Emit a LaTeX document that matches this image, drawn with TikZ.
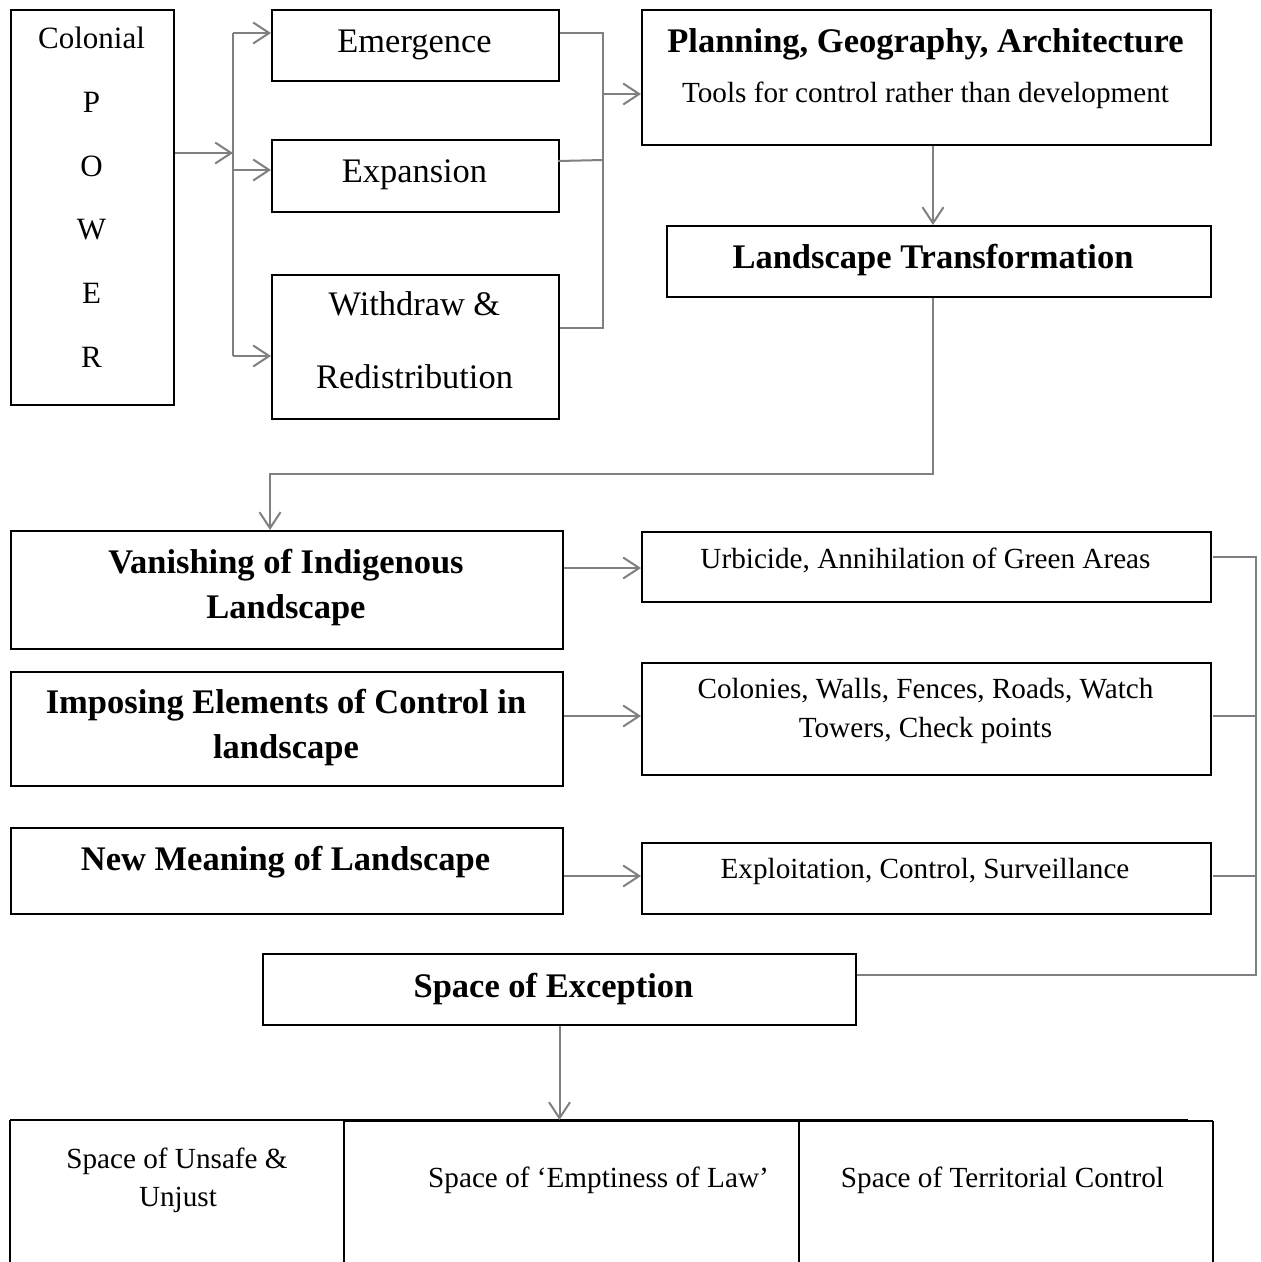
\documentclass[tikz,border=0pt]{standalone}
\usepackage{fontspec}
\setmainfont{Liberation Serif}
\usetikzlibrary{arrows.meta}

\definecolor{linkgray}{HTML}{808080}

\tikzset{
  box/.style={draw=black, line width=2pt, anchor=north west, inner sep=0pt, fill=white},
  link/.style={draw=linkgray, line width=2pt},
  arr/.style={link, -{Straight Barb[length=16pt,width=21pt]}},
  rule/.style={draw=black, line width=1.1pt},
  lbl/.style={anchor=base, inner sep=0pt},
  big/.style={lbl, font=\fontsize{34.5}{40}\selectfont\bfseries},
  mid/.style={lbl, font=\fontsize{34.4}{40}\selectfont},
  col/.style={lbl, font=\fontsize{31}{36}\selectfont},
  small/.style={lbl, font=\fontsize{29.2}{34}\selectfont},
}

\begin{document}
\begin{tikzpicture}[x=1pt, y=-1pt]
\useasboundingbox[fill=white] (0,0) rectangle (1261,1262);

% ---------- boxes ----------
\node[box, minimum width=163pt, minimum height=395pt] (colonial) at (10,9) {};
\node[box, minimum width=287pt, minimum height=71pt]  (emerg)    at (271,9) {};
\node[box, minimum width=287pt, minimum height=72pt]  (expan)    at (271,139) {};
\node[box, minimum width=287pt, minimum height=144pt] (withd)    at (271,274) {};
\node[box, minimum width=569pt, minimum height=135pt] (plan)     at (641,9) {};
\node[box, minimum width=544pt, minimum height=71pt]  (lt)       at (666,225) {};
\node[box, minimum width=552pt, minimum height=118pt] (vanish)   at (10,530) {};
\node[box, minimum width=552pt, minimum height=114pt] (impose)   at (10,671) {};
\node[box, minimum width=552pt, minimum height=86pt]  (newmean)  at (10,827) {};
\node[box, minimum width=569pt, minimum height=70pt]  (urbi)     at (641,531) {};
\node[box, minimum width=569pt, minimum height=112pt] (colon)    at (641,662) {};
\node[box, minimum width=569pt, minimum height=71pt]  (exploit)  at (641,842) {};
\node[box, minimum width=593pt, minimum height=71pt]  (soe)      at (262,953) {};

% ---------- texts ----------
\node[col] (c0) at (91.5,48)  {Colonial};
\node[col] (c1) at (91.5,112) {P};
\node[col] (c2) at (91.5,176) {O};
\node[col] (c3) at (91.5,239) {W};
\node[col] (c4) at (91.5,303) {E};
\node[col] (c5) at (91.5,367) {R};

\node[mid] (emerg-t)  at (414.5,52)  {Emergence};
\node[mid] (expan-t)  at (414.5,182) {Expansion};
\node[mid] (withd-t1) at (414.5,315) {Withdraw \&};
\node[mid] (withd-t2) at (414.5,388) {Redistribution};

\node[big]   (plan-t1) at (925.5,52)  {Planning, Geography, Architecture};
\node[small] (plan-t2) at (925.5,102) {Tools for control rather than development};
\node[big]   (lt-t)    at (933,268)   {Landscape Transformation};

\node[big] (vanish-t1)  at (286,573) {Vanishing of Indigenous};
\node[big] (vanish-t2)  at (286,618) {Landscape};
\node[big] (impose-t1)  at (286,713) {Imposing Elements of Control in};
\node[big] (impose-t2)  at (286,758) {landscape};
\node[big] (newmean-t)  at (285.5,870) {New Meaning of Landscape};

\node[small] (urbi-t)     at (925.5,568) {Urbicide, Annihilation of Green Areas};
\node[small] (colon-t1)   at (925.5,698) {Colonies, Walls, Fences, Roads, Watch};
\node[small] (colon-t2)   at (925.5,737) {Towers, Check points};
\node[small] (exploit-t)  at (925,878)   {Exploitation, Control, Surveillance};

\node[big] (soe-t) at (553.5,997) {Space of Exception};

% ---------- table of the three spaces ----------
\coordinate (tbltop) at (558,1120);
\draw[rule] (10,1120) -- (1188,1120);
\draw[rule] (344,1121) -- (1213,1121);
\draw[rule] (10,1120) -- (10,1262);
\draw[rule] (344,1121) -- (344,1262);
\draw[rule] (799,1121) -- (799,1262);
\draw[rule] (1213,1121) -- (1213,1262);

\node[small] (cell1a) at (177,1168)    {Space of Unsafe \&};
\node[small] (cell1b) at (178,1206)    {Unjust};
\node[small] (cell2)  at (598.5,1187)  {Space of ‘Emptiness of Law’};
\node[small] (cell3)  at (1002.5,1187) {Space of Territorial Control};

% ---------- connectors: colonial power fan-out ----------
\coordinate (fan) at (233,153);
\coordinate (fan1) at (233,33);
\coordinate (fan2) at (233,170);
\coordinate (fan3) at (233,356);
\draw[arr] (colonial.east |- fan) -- (fan);
\draw[link] (fan1) -- (fan3);
\draw[arr] (fan1) -- (fan1 -| emerg.west);
\draw[arr] (fan2) -- (fan2 -| expan.west);
\draw[arr] (fan3) -- (fan3 -| withd.west);

% ---------- connectors: collector into planning ----------
\coordinate (col1) at (603,33);
\coordinate (col2) at (603,160);
\coordinate (col3) at (603,328);
\coordinate (colout) at (603,94);
\draw[link] (col1 -| emerg.east) -- (col1) -- (col3) -- (col3 -| withd.east);
\draw[link] (558,161) -- (col2);
\draw[arr] (colout) -- (colout -| plan.west);

% ---------- connectors: planning to landscape ----------
\coordinate (pl) at (933,0);
\draw[arr] (pl |- plan.south) -- (pl |- lt.north);
\coordinate (bend) at (933,474);
\coordinate (drop) at (270,474);
\draw[arr] (pl |- lt.south) -- (bend) -- (drop) -- (drop |- vanish.north);

% ---------- connectors: middle rows ----------
\coordinate (r1) at (0,568);
\coordinate (r2) at (0,716);
\coordinate (r3) at (0,876);
\draw[arr] (vanish.east |- r1)  -- (urbi.west |- r1);
\draw[arr] (impose.east |- r2)  -- (colon.west |- r2);
\draw[arr] (newmean.east |- r3) -- (exploit.west |- r3);

% ---------- connectors: collector into space of exception ----------
\coordinate (k1) at (1256,557);
\coordinate (k2) at (1256,716);
\coordinate (k3) at (1256,876);
\coordinate (k4) at (1256,975);
\draw[link] (1213,557) -- (k1) -- (k4) -- (k4 -| soe.east);
\draw[link] (1213,716) -- (k2);
\draw[link] (1213,876) -- (k3);

% ---------- connector: exception to the spaces ----------
\draw[arr] (soe.south) -- (soe.south |- tbltop);
\end{tikzpicture}
\end{document}
